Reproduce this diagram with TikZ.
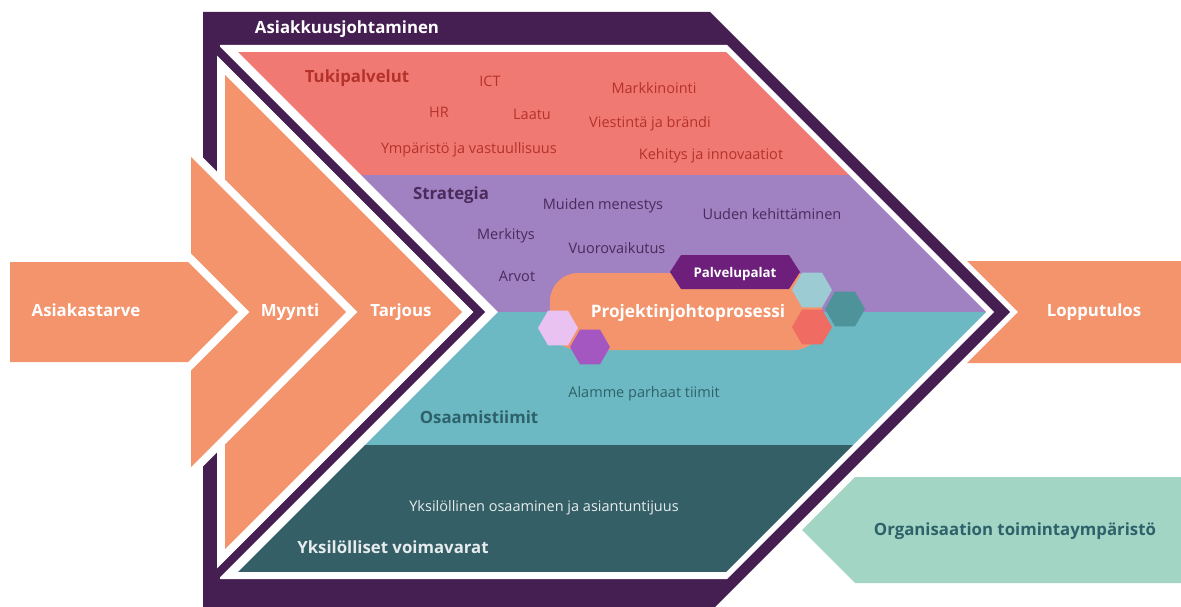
\documentclass[tikz,border=0pt]{standalone}
\usepackage{fontspec}
\setmainfont{Open Sans}
\usetikzlibrary{shapes.geometric}

\definecolor{framepurple}{HTML}{461F52}
\definecolor{flow}{HTML}{F3946D}
\definecolor{bandred}{HTML}{F17974}
\definecolor{redtext}{HTML}{B5322A}
\definecolor{bandpurple}{HTML}{A081C2}
\definecolor{purpletext}{HTML}{4B2A5C}
\definecolor{bandteal}{HTML}{6CB9C3}
\definecolor{tealtext}{HTML}{2E626A}
\definecolor{banddark}{HTML}{345F66}
\definecolor{lighttext}{HTML}{E6ECED}
\definecolor{envgreen}{HTML}{A3D5C4}
\definecolor{palvpurple}{HTML}{6E1F7C}
\definecolor{hexblue}{HTML}{9CCBD4}
\definecolor{hexteal}{HTML}{4D9399}
\definecolor{hexsalmon}{HTML}{F06B62}
\definecolor{hexlav}{HTML}{E9C2F2}
\definecolor{hexviolet}{HTML}{A457C0}

\begin{document}
\begin{tikzpicture}[x=1pt,y=-1pt,
  lbl/.style={inner sep=0pt, outer sep=0pt, text height=0.72em, text depth=0pt, yshift=-2pt},
  head/.style={lbl, font=\fontsize{16.8}{19}\selectfont\bfseries},
  item/.style={lbl, font=\fontsize{14.5}{17}\selectfont},
  halo/.style={draw=white, line width=16pt, line join=miter, fill=white},
  hexa/.style={regular polygon, regular polygon sides=6, minimum size=40pt,
    inner sep=0pt, outer sep=0pt, draw=none}]
\useasboundingbox (0,0) rectangle (1181,607);

% outer customer-management frame
\fill[framepurple] (203,12) -- (710,12) -- (1010,312) -- (715,607) -- (203,607) -- cycle;
\fill[white] (220,45) -- (727,45) -- (994,312) -- (727,579) -- (220,579) -- cycle;
% inner chevron stripe
\fill[framepurple] (206,45) -- (473,312) -- (206,579) -- (218,579) -- (485,312) -- (218,45) -- cycle;

% horizontal layers
\begin{scope}
  \clip (238,52) -- (726,52) -- (986,312) -- (726,572) -- (238,572) -- (498,312) -- cycle;
  \fill[bandred] (200,52) rectangle (1000,175);
  \fill[bandpurple] (200,175) rectangle (1000,312);
  \fill[bandteal] (200,312) rectangle (1000,445);
  \fill[banddark] (200,445) rectangle (1000,572);
\end{scope}

% flow chevrons
\path[halo] (225,75) -- (462,312) -- (225,549) -- cycle;
\fill[flow] (225,75) -- (462,312) -- (225,549) -- cycle;
\path[halo] (191,157) -- (346,312) -- (191,467) -- cycle;
\fill[flow] (191,157) -- (346,312) -- (191,467) -- cycle;
\path[halo] (10,262) -- (188,262) -- (238,312) -- (188,362) -- (10,362) -- cycle;
\fill[flow] (10,262) -- (188,262) -- (238,312) -- (188,362) -- (10,362) -- cycle;
\fill[flow] (967,261) -- (1181,261) -- (1181,363) -- (967,363) -- (1018,312) -- cycle;
\fill[envgreen] (855,477) -- (1181,477) -- (1181,583) -- (855,583) -- (802,530) -- cycle;

% project management process
\node[fill=flow, rounded corners=28pt, minimum width=272pt, minimum height=77pt,
  inner sep=0pt] (proj) at (686,311.5) {};
\node[lbl, text=white, font=\fontsize{17.2}{19}\selectfont\bfseries] (projtxt) at (688,312) {Projektinjohtoprosessi};
\fill[palvpurple] (670,272) -- (681,255) -- (789,255) -- (800,272) -- (789,289) -- (681,289) -- cycle;
\node[lbl, text=white, font=\fontsize{13.3}{15}\selectfont\bfseries] (palv) at (735,272) {Palvelupalat};
\node[hexa, fill=hexblue] (hb) at (812,290) {};
\node[hexa, fill=hexsalmon] (hs) at (812,327) {};
\node[hexa, fill=hexteal] (ht) at (845,309) {};
\node[hexa, fill=hexlav] (hl) at (558,328) {};
\node[hexa, fill=hexviolet] (hv) at (590,347) {};

% frame and layer titles
\node[head, text=white] (asj) at (347,28) {Asiakkuusjohtaminen};
\node[head, text=redtext] (tuki) at (357,77) {Tukipalvelut};
\node[head, text=purpletext] (strat) at (451,194) {Strategia};
\node[head, text=tealtext] (osaam) at (479,418) {Osaamistiimit};
\node[head, text=lighttext] (yks) at (393,548) {Yksilölliset voimavarat};

% support services
\node[item, text=redtext] (ict) at (490,81) {ICT};
\node[item, text=redtext] (mark) at (654,88) {Markkinointi};
\node[item, text=redtext] (hr) at (439,112) {HR};
\node[item, text=redtext] (laatu) at (532,114) {Laatu};
\node[item, text=redtext] (viest) at (650,122) {Viestintä ja brändi};
\node[item, text=redtext] (ymp) at (469,148) {Ympäristö ja vastuullisuus};
\node[item, text=redtext] (kehi) at (711,154) {Kehitys ja innovaatiot};

% strategy
\node[item, text=purpletext] (muid) at (603,204) {Muiden menestys};
\node[item, text=purpletext] (uud) at (772,214) {Uuden kehittäminen};
\node[item, text=purpletext] (merk) at (506,234) {Merkitys};
\node[item, text=purpletext] (vuor) at (617,248) {Vuorovaikutus};
\node[item, text=purpletext] (arv) at (517,276) {Arvot};

% teams and individuals
\node[item, text=tealtext] (alam) at (644,392) {Alamme parhaat tiimit};
\node[item, text=lighttext] (yksos) at (544,506) {Yksilöllinen osaaminen ja asiantuntijuus};

% flow labels
\node[head, text=white] (asiak) at (86,311) {Asiakastarve};
\node[head, text=white] (myy) at (290,311) {Myynti};
\node[head, text=white] (tarj) at (401,311) {Tarjous};
\node[head, text=white] (lopp) at (1094,311) {Lopputulos};
\node[head, text=tealtext] (org) at (1015,530) {Organisaation toimintaympäristö};
\end{tikzpicture}
\end{document}
